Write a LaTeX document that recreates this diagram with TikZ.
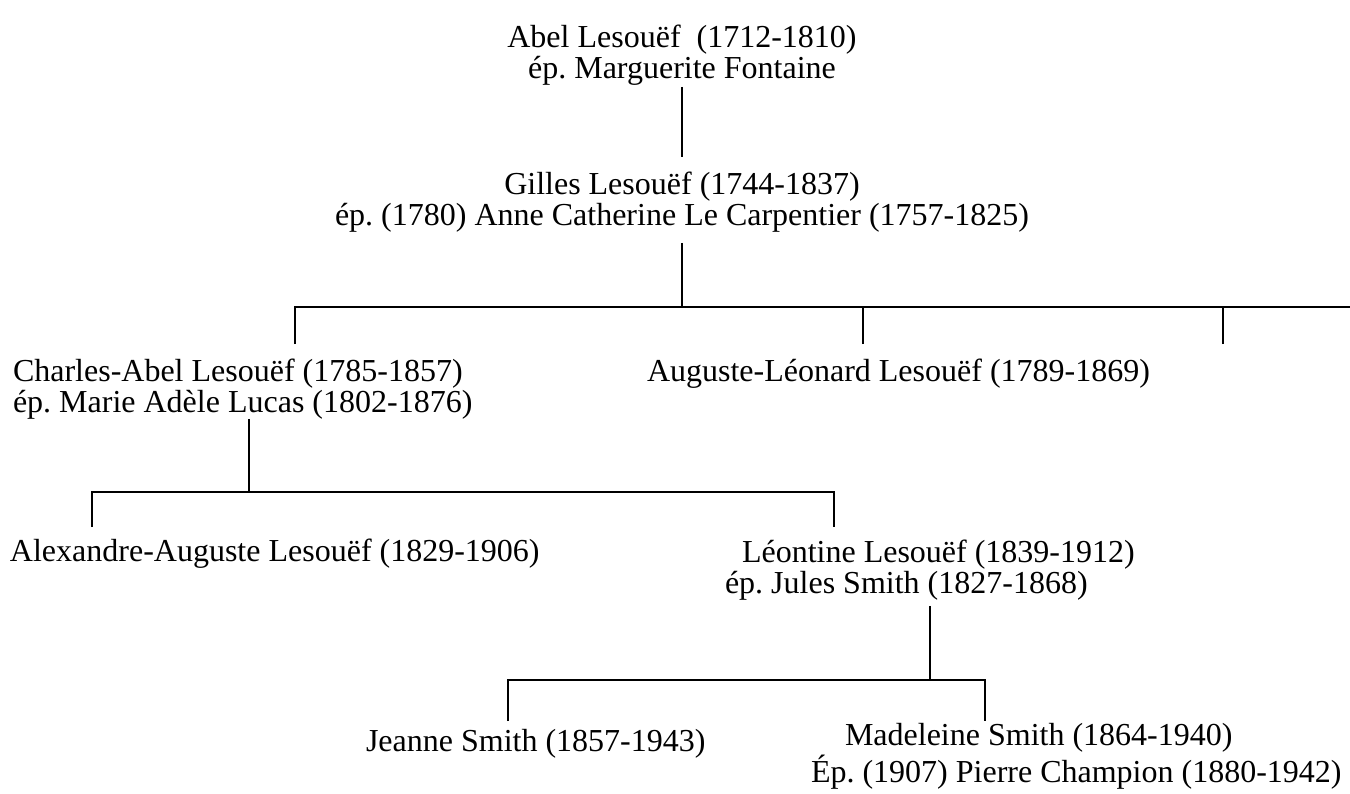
\documentclass[tikz,border=0pt]{standalone}
\usepackage{fontspec}
\setmainfont{Liberation Serif}
\frenchspacing
\begin{document}
\begin{tikzpicture}[x=0.5pt,y=-0.5pt,
   every node/.style={inner sep=0pt,outer sep=0pt,font=\fontsize{16pt}{15.5pt}\selectfont},
   person/.style={anchor=base west,align=left},
   couple/.style={anchor=base,align=center},
   link/.style={line width=1pt}]
   \useasboundingbox (0,0) rectangle (1350,793);
   \node (abel)      [couple] at (682,78)  {Abel Lesouëf \ (1712-1810)\\ép. Marguerite Fontaine};
   \node (gilles)    [couple] at (682,225) {Gilles Lesouëf (1744-1837)\\ép. (1780) Anne Catherine Le Carpentier (1757-1825)};
   \node (charles)   [person] at (13,412)  {Charles-Abel Lesouëf (1785-1857)\\ép. Marie Adèle Lucas (1802-1876)};
   \node (auguste)   [person] at (647,381) {Auguste-Léonard Lesouëf (1789-1869)};
   \node (alexandre) [person] at (10,561)  {Alexandre-Auguste Lesouëf (1829-1906)};
   \node (leontine)  [person] at (725,593) {\hspace*{8.5pt}Léontine Lesouëf (1839-1912)\\ép. Jules Smith (1827-1868)};
   \node (jeanne)    [person] at (366,751) {Jeanne Smith (1857-1943)};
   \node (madeleine) [person] at (811,782) {\hspace*{17pt}Madeleine Smith (1864-1940)\\Ép. (1907) Pierre Champion (1880-1942)};
   % bars and drops
   \coordinate (barA)   at (1350,307);
   \coordinate (dropC)  at (295,344);
   \coordinate (dropA)  at (863,344);
   \coordinate (dropX)  at (1223,344);
   \coordinate (barB)   at (834,492);
   \coordinate (dropAl) at (92,527);
   \coordinate (dropL)  at (834,527);
   \coordinate (barC)   at (985,680);
   \coordinate (dropJ)  at (508,721);
   \coordinate (dropM)  at (985,721);
   \draw[link, shorten <=1pt, shorten >=7pt] (abel.south) -- (gilles.north);
   \draw[link, shorten <=5.5pt] (gilles.south) -- (gilles.south |- barA);
   \draw[link] (dropC) |- (barA);
   \draw[link] (dropA) -- (dropA |- barA);
   \draw[link] (dropX) -- (dropX |- barA);
   \draw[link] ([xshift=3pt]charles.south) -- ([xshift=3pt]charles.south |- barB);
   \draw[link] (dropAl) |- (barB) -- (dropL);
   \draw[link, shorten <=3pt] (leontine.south) -- (leontine.south |- barC);
   \draw[link] (dropJ) |- (barC) -- (dropM);
\end{tikzpicture}
\end{document}
